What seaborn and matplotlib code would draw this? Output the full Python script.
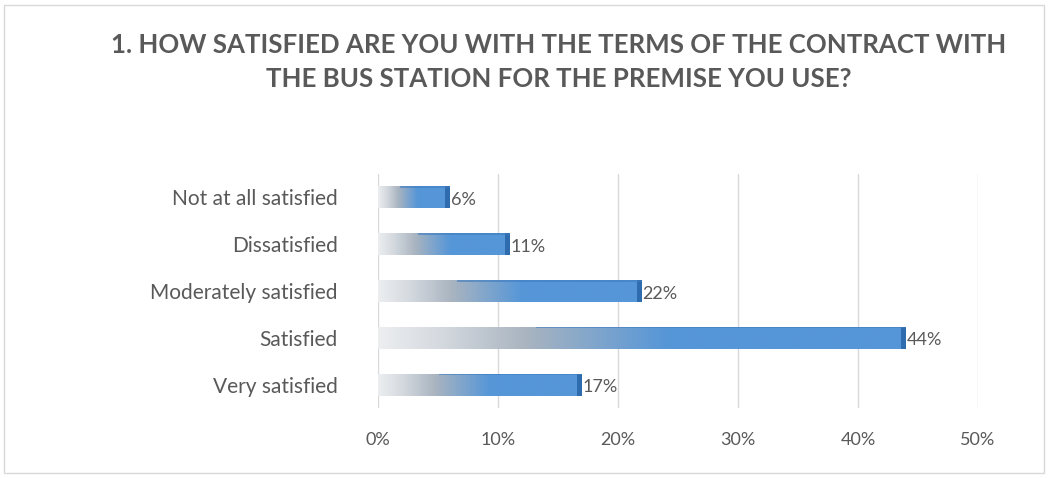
import numpy as np
import pandas as pd
import matplotlib
matplotlib.use("Agg")
import matplotlib.pyplot as plt
from matplotlib.colors import LinearSegmentedColormap
from matplotlib.patches import Rectangle
import seaborn as sns

categories = ["Not at all satisfied", "Dissatisfied", "Moderately satisfied",
              "Satisfied", "Very satisfied"]
values = [6, 11, 22, 44, 17]
tick_values = [0, 10, 20, 30, 40, 50]
tick_labels = ["0%", "10%", "20%", "30%", "40%", "50%"]
title = "1. HOW SATISFIED ARE YOU WITH THE TERMS OF THE CONTRACT WITH\nTHE BUS STATION FOR THE PREMISE YOU USE?"

sns.set_theme(style="white")
plt.rcParams['font.family'] = ['Lato', 'DejaVu Sans']

text_color = "#595959"
bar_blue = "#5596d8"

df = pd.DataFrame({"category": categories, "value": values})

fig = plt.figure(figsize=(10.48, 4.78), dpi=100)
ax = fig.add_axes([378 / 1048, 1 - 408 / 478, 600 / 1048, 234 / 478])

sns.barplot(data=df, x="value", y="category", orient="h", ax=ax,
            color=bar_blue, width=0.47, saturation=1, edgecolor="none")

ax.set_xlim(0, 50)
ax.set_ylim(4.5, -0.5)

# gradient fill: pale grey at the base turning into blue along the bar
cmap = LinearSegmentedColormap.from_list(
    "fade", [(0.0, "#eceef0"), (0.12, "#d4d9df"), (0.28, "#a9b4c0"),
             (0.55, bar_blue), (1.0, bar_blue)])
grad = np.linspace(0, 1, 256).reshape(1, -1)
for patch, v in zip(ax.patches, values):
    x0, y0 = patch.get_x(), patch.get_y()
    w, h = patch.get_width(), patch.get_height()
    im = ax.imshow(grad, cmap=cmap, aspect="auto", extent=[x0, x0 + w, y0 + h, y0],
                   interpolation="bicubic", zorder=2)
    im.set_clip_path(patch)
    # darker end cap and a faint top rim for a bevelled look
    ax.add_patch(Rectangle((x0 + w - 0.4, y0), 0.4, h, color="#2f6cae", zorder=3, lw=0))
    ax.add_patch(Rectangle((x0 + w * 0.3, y0), w * 0.7, h * 0.07, color="#3f7cc0",
                           alpha=0.6, zorder=3, lw=0))
    ax.text(x0 + w + 0.05, y0 + h * 0.62, f"{v}%", va="center", ha="left",
            fontsize=13, color=text_color, zorder=4)

ax.set_xticks(tick_values)
ax.set_xticklabels(tick_labels, fontsize=13, color=text_color)
ax.tick_params(axis="x", length=0, pad=17)
ax.tick_params(axis="y", length=0, pad=29, labelsize=15, labelcolor=text_color)
ax.set_xlabel("")
ax.set_ylabel("")
ax.grid(axis="x", color="#d9d9d9", lw=1)
ax.set_axisbelow(True)
for s in ax.spines.values():
    s.set_visible(False)
ax.axvline(0, color="#d9d9d9", lw=1.2, zorder=1)

fig.text(559 / 1048, 1 - 62 / 478, title, ha="center", va="center",
         fontsize=18.6, fontweight="bold", color=text_color, linespacing=1.5)

fig.patches.append(Rectangle((4 / 1048, 5 / 478), 1040 / 1048, 468 / 478,
                             transform=fig.transFigure, fill=False,
                             edgecolor="#d9d9d9", lw=1))

fig.savefig("out.png", dpi=100, facecolor="white")
